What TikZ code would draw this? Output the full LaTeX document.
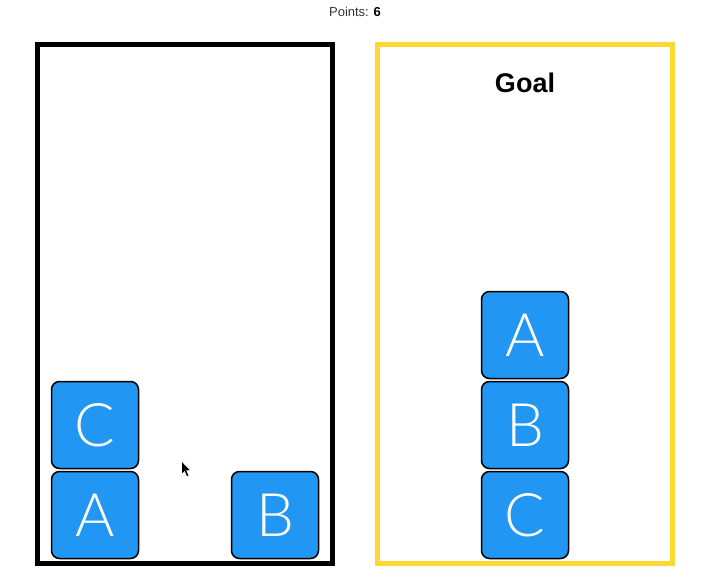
\documentclass[tikz,border=0pt]{standalone}
\usepackage{fontspec}
\setmainfont{Liberation Sans}
\newfontfamily\lightfont{Lato Light}
\definecolor{blockblue}{RGB}{33,150,243}
\definecolor{goalyellow}{RGB}{253,216,53}
\definecolor{txtgray}{RGB}{51,51,51}
\begin{document}
\begin{tikzpicture}[x=1pt,y=-1pt,
  blockbox/.style={draw=black,line width=1.5pt,fill=blockblue,rounded corners=8pt,
    minimum width=87pt,minimum height=87pt,inner sep=0pt,text=white,
    font=\lightfont\fontsize{60}{60}\selectfont,text depth=0pt},
  framebox/.style={line width=5pt}]
\useasboundingbox (0,0) rectangle (710,583);
\fill[white] (0,0) rectangle (710,583);
% header
\node[font=\fontsize{13}{13}\selectfont,text=txtgray] (points) at (355,12) {Points: \textbf{\color{black}6}};
% frames
\draw[framebox,draw=black] (37.5,44.5) rectangle (332.5,563.5);
\draw[framebox,draw=goalyellow] (377.5,44.5) rectangle (672.5,563.5);
\node[font=\bfseries\fontsize{27}{27}\selectfont] (goal) at (525,83) {Goal};
% current state
\node[blockbox] (lC) at (95,425) {C};
\node[blockbox] (lA) at (95,515) {A};
\node[blockbox] (lB) at (275,515) {B};
% goal state
\node[blockbox] (gA) at (525,335) {A};
\node[blockbox] (gB) at (525,425) {B};
\node[blockbox] (gC) at (525,515) {C};
% mouse cursor
\filldraw[fill=black,draw=white,line width=0.6pt,line join=round]
  (181.5,461) -- (181.5,474.5) -- (184.5,471.5) -- (186.8,476.8) -- (189,475.8)
  -- (186.7,470.6) -- (190.8,470.6) -- cycle;
\end{tikzpicture}
\end{document}
